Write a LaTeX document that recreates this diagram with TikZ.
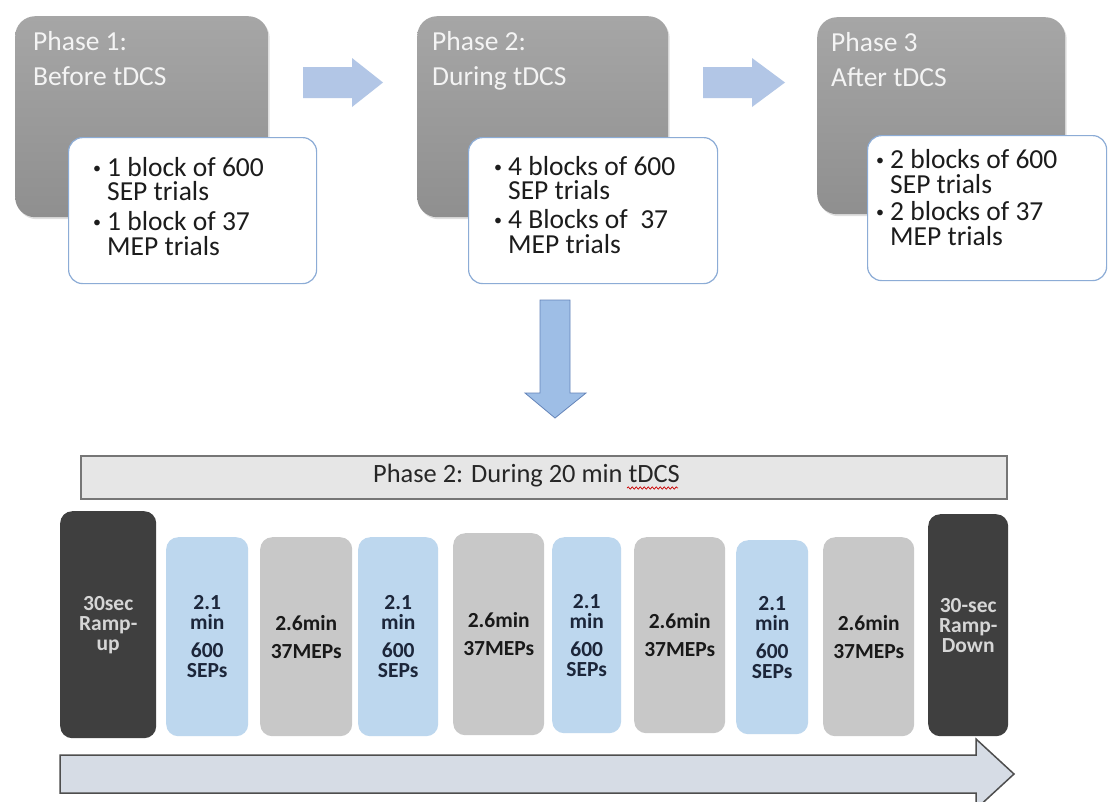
\documentclass[tikz,border=0pt]{standalone}
\usepackage{fontspec}
\setmainfont{Carlito}
\usetikzlibrary{shadows,decorations.pathmorphing}

\definecolor{phasetop}{RGB}{166,166,166}
\definecolor{phasebot}{RGB}{143,143,143}
\definecolor{phasetxt}{RGB}{244,244,244}
\definecolor{wborder}{RGB}{140,172,214}
\definecolor{btxt}{RGB}{28,28,28}
\definecolor{arrowlight}{RGB}{178,198,230}
\definecolor{arrowdown}{RGB}{158,190,230}
\definecolor{arrowdownline}{RGB}{100,132,185}
\definecolor{hdrfill}{RGB}{230,230,230}
\definecolor{hdrline}{RGB}{118,118,118}
\definecolor{sepblue}{RGB}{189,215,238}
\definecolor{mepgray}{RGB}{200,200,200}
\definecolor{rampdark}{RGB}{63,63,63}
\definecolor{ramptxt}{RGB}{214,214,214}
\definecolor{septxt}{RGB}{28,38,58}
\definecolor{meptxt}{RGB}{25,25,25}
\definecolor{timefill}{RGB}{214,220,229}
\definecolor{timeline}{RGB}{78,78,78}

% small list bullet followed by the hanging indent
\newcommand\bul{\makebox[14pt][l]{\raisebox{3pt}{\fontsize{16}{16}\selectfont •}}}

\begin{document}
\begin{tikzpicture}[x=1pt,y=-1pt,
  phasebox/.style={anchor=north west, rounded corners=20pt, top color=phasetop,
    bottom color=phasebot, draw=none, inner sep=0pt,
    drop shadow={shadow xshift=1.5pt, shadow yshift=-2pt, opacity=0.25}},
  phasetitle/.style={anchor=base west, inner sep=0pt, text=phasetxt,
    font=\fontsize{27.5}{30}\selectfont},
  whitebox/.style={anchor=north west, rounded corners=14pt, fill=white,
    draw=wborder, line width=1.2pt, inner sep=0pt},
  bltxt/.style={anchor=base west, inner sep=0pt, text=btxt,
    text height=17pt, text depth=4pt,
    font=\fontsize{27.5}{30}\selectfont},
  blockbase/.style={anchor=north west, rounded corners=12pt, draw=none,
    inner sep=1pt, align=center, font=\bfseries\fontsize{21.5}{20}\selectfont},
  sepblock/.style={blockbase, fill=sepblue, text=septxt},
  mepblock/.style={blockbase, fill=mepgray, text=meptxt},
  rampblock/.style={blockbase, fill=rampdark, text=ramptxt},
]
\path[use as bounding box, fill=white] (0,0) rectangle (1108,801);

% ---- three phases ----
\node[phasebox, minimum width=253pt, minimum height=201pt] (p1) at (15,16) {};
\node[phasebox, minimum width=251pt, minimum height=201pt] (p2) at (417,16) {};
\node[phasebox, minimum width=248pt, minimum height=197pt] (p3) at (817,17) {};

\node[phasetitle] (p1a) at (33,50) {Phase 1:};
\node[phasetitle] (p1b) at (33,85) {Before tDCS};
\node[phasetitle] (p2a) at (432,50) {Phase 2:};
\node[phasetitle] (p2b) at (432,85) {During tDCS};
\node[phasetitle] (p3a) at (831,51) {Phase 3};
\node[phasetitle] (p3b) at (831,86) {After tDCS};

% ---- arrows between phases ----
\fill[arrowlight] (303,67) -- (352,67) -- (352,58) -- (383,82.5) -- (352,107)
  -- (352,98) -- (303,98) -- cycle;
\fill[arrowlight] (703,67) -- (752,67) -- (752,58) -- (785,82.5) -- (752,107)
  -- (752,98) -- (703,98) -- cycle;

% ---- trial counts ----
\node[whitebox, minimum width=248pt, minimum height=146pt] (w1) at (68,137) {};
\node[whitebox, minimum width=249pt, minimum height=146pt] (w2) at (468,137) {};
\node[whitebox, minimum width=239pt, minimum height=145pt] (w3) at (867,135) {};

\node[bltxt] (w1a) at (93,176) {\bul 1 block of 600};
\node[bltxt] (w1b) at (107,200) {SEP trials};
\node[bltxt] (w1c) at (93,230) {\bul 1 block of 37};
\node[bltxt] (w1d) at (107,255) {MEP trials};

\node[bltxt] (w2a) at (494,175) {\bul 4 blocks of 600};
\node[bltxt] (w2b) at (508,199) {SEP trials};
\node[bltxt] (w2c) at (494,228) {\bul 4 Blocks of\ \ 37};
\node[bltxt] (w2d) at (508,253) {MEP trials};

\node[bltxt] (w3a) at (876,168) {\bul 2 blocks of 600};
\node[bltxt] (w3b) at (890,193) {SEP trials};
\node[bltxt] (w3c) at (876,220) {\bul 2 blocks of 37};
\node[bltxt] (w3d) at (890,245) {MEP trials};

% ---- expansion of phase 2 ----
\draw[fill=arrowdown, draw=arrowdownline, line width=0.8pt]
  (540,300) -- (570,300) -- (570,393) -- (586,393) -- (555,418) -- (525,393)
  -- (540,393) -- cycle;

\node[anchor=north west, fill=hdrfill, draw=hdrline, line width=1.5pt,
  minimum width=926pt, minimum height=43pt, inner sep=0pt] (hdr) at (80,455) {};
\node[anchor=base west, inner sep=0pt, text=black!85,
  font=\fontsize{26.4}{28}\selectfont] (hdrt) at (373,482) {Phase 2: During 20 min tDCS};
\draw[red!80!black, line width=0.7pt,
  decorate, decoration={snake, amplitude=1.1pt, segment length=4pt}]
  (627,488) -- (678,488);

% ---- stimulation timeline blocks ----
\node[rampblock, minimum width=96pt, minimum height=227pt] (ru) at (60,511) {30sec\\Ramp-\\up};
\node[sepblock, minimum width=82pt, minimum height=199pt] (s1) at (166,537) {2.1\\min\\[8pt]600\\SEPs};
\node[mepblock, minimum width=92pt, minimum height=199pt] (m1) at (260,537) {2.6min\\[8pt]37MEPs};
\node[sepblock, minimum width=80pt, minimum height=199pt] (s2) at (358,537) {2.1\\min\\[8pt]600\\SEPs};
\node[mepblock, minimum width=91pt, minimum height=202pt] (m2) at (453,533) {2.6min\\[8pt]37MEPs};
\node[sepblock, minimum width=69pt, minimum height=196pt] (s3) at (552,537) {2.1\\min\\[8pt]600\\SEPs};
\node[mepblock, minimum width=91pt, minimum height=196pt] (m3) at (634,537) {2.6min\\[8pt]37MEPs};
\node[sepblock, minimum width=72pt, minimum height=194pt] (s4) at (736,540) {2.1\\min\\[8pt]600\\SEPs};
\node[mepblock, minimum width=91pt, minimum height=199pt] (m4) at (823,537) {2.6min\\[8pt]37MEPs};
\node[rampblock, minimum width=80pt, minimum height=222pt] (rd) at (928,514) {30-sec\\Ramp-\\Down};

% ---- time axis ----
\draw[fill=timefill, draw=timeline, line width=1.5pt]
  (60,755) -- (976,755) -- (976,739) -- (1014,774) -- (976,809) -- (976,793)
  -- (60,793) -- cycle;
\end{tikzpicture}
\end{document}
